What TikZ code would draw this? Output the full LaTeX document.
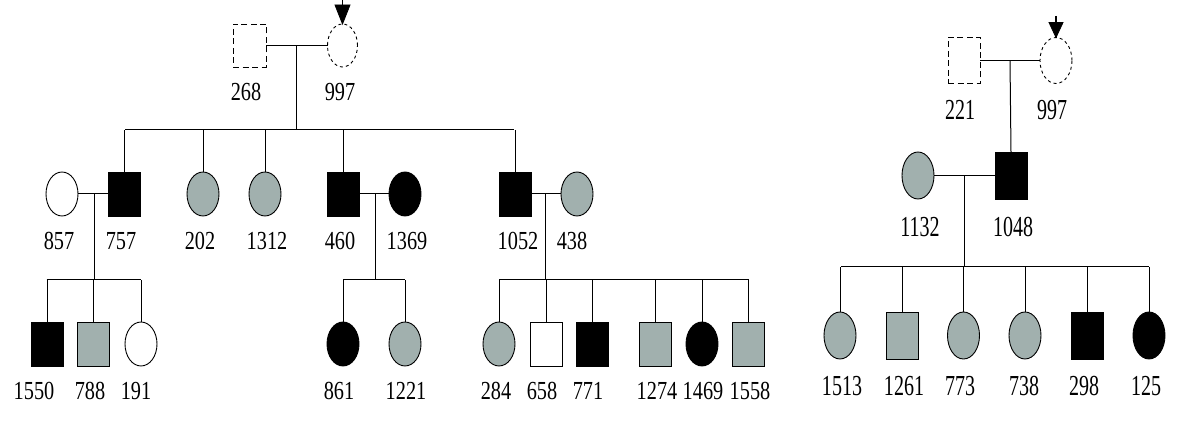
\documentclass[tikz,border=0pt]{standalone}
\usepackage{fontspec}
\setmainfont{Liberation Serif}
\newfontfamily\condA[FakeStretch=0.78]{Liberation Serif}
\newfontfamily\condB[FakeStretch=0.69]{Liberation Serif}
\usetikzlibrary{shapes.geometric,arrows.meta}
\definecolor{aff}{RGB}{161,176,174}
\tikzset{
  every node/.style={inner sep=0pt, outer sep=0pt},
  sq/.style={rectangle, draw=black, line width=0.9pt, minimum width=32pt, minimum height=44pt},
  ci/.style={ellipse, draw=black, line width=0.9pt, minimum width=32pt, minimum height=44pt},
  big/.style={minimum height=47pt},
  unk/.style={dash pattern=on 6pt off 3.5pt, fill=white},
  unkc/.style={dash pattern=on 3pt off 3pt, fill=white},
  wh/.style={fill=white},
  bl/.style={fill=black},
  gr/.style={fill=aff},
  labA/.style={font=\condA\fontsize{26}{26}\selectfont},
  labB/.style={font=\condB\fontsize{29}{29}\selectfont},
  ln/.style={line width=1pt},
  shaft/.style={line width=1.3pt},
  head/.style={fill=black, draw=black, line width=0.8pt, line join=miter}
}
\begin{document}
\begin{tikzpicture}[x=1pt,y=-1pt]
\useasboundingbox (0,0) rectangle (1200,435);
% ---------------- left family ----------------
\node[sq,unk,minimum width=33pt,minimum height=43pt] (p268) at (249.5,45.5) {};
\node[ci,unkc,minimum width=30pt,minimum height=43pt] (p997a) at (342.5,45.5) {};
\node[labA] (l268) at (246,92) {268};
\node[labA] (l997a) at (340,92) {997};
\coordinate (a1) at (342.5,0);
\draw[shaft] (a1) -- ([yshift=10pt]p997a.north);
\fill[head] ([xshift=-7.5pt,yshift=19pt]p997a.north) -- (p997a.north) -- ([xshift=7.5pt,yshift=19pt]p997a.north) -- cycle;
\draw[ln] (p268.east) -- (p997a.west);
\coordinate (m1) at (296.3,45.5);
\coordinate (s1L) at (125,130);
\coordinate (s1R) at (514,130);
\draw[ln] (m1) -- (m1 |- s1L);
\draw[ln] (s1L) -- (s1R);

% generation II
\node[ci,wh] (p857) at (62,194) {};
\node[sq,bl] (p757) at (124.5,194) {};
\node[ci,gr] (p202) at (203,194) {};
\node[ci,gr] (p1312) at (265,194) {};
\node[sq,bl] (p460) at (343,194) {};
\node[ci,bl] (p1369) at (405,194) {};
\node[sq,bl] (p1052) at (515,194) {};
\node[ci,gr] (p438) at (577,194) {};
\foreach \n in {p757,p202,p1312,p460,p1052}
  \draw[ln] (\n.north) -- (\n.north |- s1L);
\node[labA] (l857) at (59,241) {857};
\node[labA] (l757) at (121,241) {757};
\node[labA] (l202) at (200,241) {202};
\node[labA] (l1312) at (267,241) {1312};
\node[labA] (l460) at (340,241) {460};
\node[labA] (l1369) at (407,241) {1369};
\node[labA] (l1052) at (518,241) {1052};
\node[labA] (l438) at (572,241) {438};

\draw[ln] (p857.east) -- (p757.west);
\draw[ln] (p460.east) -- (p1369.west);
\draw[ln] (p1052.east) -- (p438.west);
\coordinate (m2) at (94.3,194);
\coordinate (m3) at (375,194);
\coordinate (m4) at (545.7,194);
\coordinate (s2L) at (46.7,280);
\coordinate (s2R) at (140.5,280);
\coordinate (s3L) at (343.3,280);
\coordinate (s3R) at (405,280);
\coordinate (s4L) at (499,280);
\coordinate (s4R) at (749,280);
\draw[ln] (m2) -- (m2 |- s2L);
\draw[ln] (m3) -- (m3 |- s3L);
\draw[ln] (m4) -- (m4 |- s4L);
\draw[ln] (s2L) -- (s2R);
\draw[ln] (s3L) -- (s3R);
\draw[ln] (s4L) -- (s4R);

% generation III
\node[sq,bl] (p1550) at (47,344) {};
\node[sq,gr] (p788) at (93,344) {};
\node[ci,wh] (p191) at (141,344) {};
\node[ci,bl] (p861) at (343,344) {};
\node[ci,gr] (p1221) at (405,344) {};
\node[ci,gr] (p284) at (499,344) {};
\node[sq,wh] (p658) at (546,344) {};
\node[sq,bl] (p771) at (592,344) {};
\node[sq,gr] (p1274) at (655,344) {};
\node[ci,bl] (p1469) at (702,344) {};
\node[sq,gr] (p1558) at (748,344) {};
\foreach \n in {p1550,p788,p191}
  \draw[ln] (\n.north) -- (\n.north |- s2L);
\foreach \n in {p861,p1221}
  \draw[ln] (\n.north) -- (\n.north |- s3L);
\foreach \n in {p284,p658,p771,p1274,p1469,p1558}
  \draw[ln] (\n.north) -- (\n.north |- s4L);
\node[labA] (l1550) at (34,391) {1550};
\node[labA] (l788) at (90,391) {788};
\node[labA] (l191) at (136,391) {191};
\node[labA] (l861) at (339,391) {861};
\node[labA] (l1221) at (406,391) {1221};
\node[labA] (l284) at (496,391) {284};
\node[labA] (l658) at (542,391) {658};
\node[labA] (l771) at (588,391) {771};
\node[labA] (l1274) at (657,391) {1274};
\node[labA] (l1469) at (703,391) {1469};
\node[labA] (l1558) at (750,391) {1558};

% ---------------- right family ----------------
\node[sq,unk,big,minimum height=46pt] (p221) at (964,60.5) {};
\node[ci,unkc,big,minimum height=46pt] (p997b) at (1056,60.5) {};
\node[labB] (l221) at (960,110) {221};
\node[labB] (l997b) at (1052,110) {997};
\coordinate (a2) at (1056,16);
\draw[shaft] (a2) -- ([yshift=8pt]p997b.north);
\fill[head] ([xshift=-7pt,yshift=15pt]p997b.north) -- (p997b.north) -- ([xshift=7pt,yshift=15pt]p997b.north) -- cycle;
\draw[ln] (p221.east) -- (p997b.west);
\coordinate (m5) at (1010,60.5);

\node[ci,gr,big] (p1132) at (918,175.5) {};
\node[sq,bl,big] (p1048) at (1011,175.5) {};
\draw[ln] (m5) -- (p1048.north);
\draw[ln] (p1132.east) -- (p1048.west);
\node[labB] (l1132) at (920,227) {1132};
\node[labB] (l1048) at (1013,227) {1048};
\coordinate (m6) at (964,175.5);
\coordinate (s5L) at (841,267);
\coordinate (s5R) at (1149,267);
\draw[ln] (m6) -- (m6 |- s5L);
\draw[ln] (s5L) -- (s5R);

\node[ci,gr,big] (p1513) at (840,335.5) {};
\node[sq,gr,big] (p1261) at (902,335.5) {};
\node[ci,gr,big] (p773) at (963.5,335.5) {};
\node[ci,gr,big] (p738) at (1025,335.5) {};
\node[sq,bl,big] (p298) at (1087,335.5) {};
\node[ci,bl,big] (p125) at (1149,335.5) {};
\foreach \n in {p1513,p1261,p773,p738,p298,p125}
  \draw[ln] (\n.north) -- (\n.north |- s5L);
\node[labB] (l1513) at (842,386) {1513};
\node[labB] (l1261) at (904,386) {1261};
\node[labB] (l773) at (960,386) {773};
\node[labB] (l738) at (1024,386) {738};
\node[labB] (l298) at (1084,386) {298};
\node[labB] (l125) at (1146,386) {125};
\end{tikzpicture}
\end{document}
